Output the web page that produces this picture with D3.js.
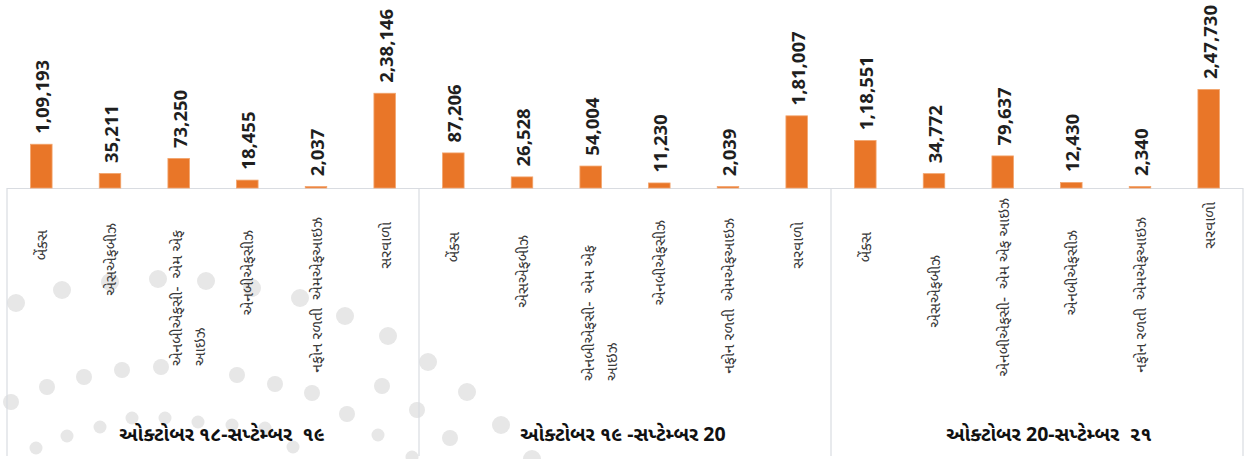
<!DOCTYPE html>
<html><head><meta charset="utf-8">
<script src="https://cdn.jsdelivr.net/npm/d3@7/dist/d3.min.js"></script>
<style>
body{margin:0;background:#fff}
svg{display:block}
text{white-space:pre}
</style>
</head><body>
<svg id="chart" width="1249" height="459"></svg>
<script>
// ---- data ----
const periods = ["ઓક્ટોબર ૧૮-સપ્ટેમ્બર  ૧૯", "ઓક્ટોબર ૧૯ -સપ્ટેમ્બર 20", "ઓક્ટોબર 20-સપ્ટેમ્બર  ૨૧"];
const categories = ["બેંક્સ", "એસએફબીઝ", "એનબીએફસી- એમ એફ આઇઝ", "એનબીએફસીઝ", "નફોન રળતી  એમએફઆઇઝ", "સરવાળો"];
const values1819 = [109193, 35211, 73250, 18455, 2037, 238146];
const values1920 = [87206, 26528, 54004, 11230, 2039, 181007];
const values2021 = [118551, 34772, 79637, 12430, 2340, 247730];
// line breaks of the category labels per period
const catLines = [
  [["બેંક્સ"], ["એસએફબીઝ"], ["એનબીએફસી-  એમ એફ", "આઇઝ"], ["એનબીએફસીઝ"], ["નફોન રળતી  એમએફઆઇઝ"], ["સરવાળો"]],
  [["બેંક્સ"], ["એસએફબીઝ"], ["એનબીએફસી-  એમ એફ", "આઇઝ"], ["એનબીએફસીઝ"], ["નફોન રળતી  એમએફઆઇઝ"], ["સરવાળો"]],
  [["બેંક્સ"], ["એસએફબીઝ"], ["એનબીએફસી-  એમ એફ આઇઝ"], ["એનબીએફસીઝ"], ["નફોન રળતી  એમએફઆઇઝ"], ["સરવાળો"]]
];
// ---- layout (not data) ----
const labelTop = [
  [230, 223, 230, 230, 217, 222],
  [232, 235, 245, 220, 218, 222],
  [232, 255, 198, 230, 217, 202]
];
const titleShift = [9, -2, 12];
const bgDots = [
  [16,303,9],[62,290,9],[110,282,9],[158,279,9],[206,281,9],[252,288,9],[300,298,9],[345,316,9],[388,336,9],
  [428,362,9],[467,392,9],[501,425,9],[532,459,9],
  [11,402,8],[47,387,8],[84,377,8],[122,370,8],[161,367,8],[237,375,8],[275,384,8],[312,393,8],[347,414,8],[382,386,8],[417,410,8],[450,438,8],
  [36,448,6.5],[67,436,6.5],[100,427,6.5],[132,418,6.5],[165,418,6.5],[198,422,6.5],[232,425,6.5],[265,428,6.5],[293,447,6.5],[378,435,6.5],[412,457,6.5]
];

const series = [values1819, values1920, values2021];
const rows = [];
series.forEach((vals, g) => vals.forEach((v, i) => rows.push({g, i, key: g + "-" + i, v})));

function indianFormat(n) {
  const s = String(n);
  if (s.length <= 3) return s;
  const last3 = s.slice(-3);
  let rest = s.slice(0, -3);
  const parts = [];
  while (rest.length > 2) { parts.unshift(rest.slice(-2)); rest = rest.slice(0, -2); }
  if (rest.length) parts.unshift(rest);
  return parts.join(",") + "," + last3;
}

const svg = d3.select("#chart");
const left = 7, right = 1243, baseY = 188;

// background decoration
svg.append("g").selectAll("circle").data(bgDots).join("circle")
  .attr("cx", d => d[0]).attr("cy", d => d[1]).attr("r", d => d[2])
  .attr("fill", "#e7e7e7");

const x = d3.scaleBand().domain(rows.map(d => d.key)).range([left, right])
  .paddingInner(0.687).paddingOuter(0.3435);
const y = d3.scaleLinear().domain([0, 300000]).range([baseY, 69.4]);

// category frame
const frame = svg.append("g").attr("stroke", "#d9dce1").attr("stroke-width", 1.2).attr("fill", "none");
frame.append("line").attr("x1", left).attr("x2", right).attr("y1", baseY + 0.5).attr("y2", baseY + 0.5);
const boundaries = [0, 1, 2, 3].map(g => g < 3 ? x(g + "-0") - (x.step() - x.bandwidth()) / 2 : right);
boundaries.forEach(bx => frame.append("line").attr("x1", bx).attr("x2", bx).attr("y1", baseY).attr("y2", 456));

// bars
svg.append("g").selectAll("rect").data(rows).join("rect")
  .attr("x", d => x(d.key)).attr("width", x.bandwidth())
  .attr("y", d => y(d.v) - 0.6).attr("height", d => y(0) - y(d.v) + 0.6)
  .attr("fill", "#e97628")
  .attr("stroke", "#f2a46c").attr("stroke-width", 0.8);

// value labels
svg.append("g").selectAll("text").data(rows).join("text")
  .attr("transform", d => `translate(${x(d.key) + x.bandwidth() / 2 + 8},${y(d.v) - 11}) rotate(-90)`)
  .attr("font-family", "'Noto Sans', 'Open Sans', sans-serif")
  .attr("font-weight", "bold").attr("font-size", 18.5).attr("fill", "#1f1f1f")
  .text(d => indianFormat(d.v));

// category labels
const catG = svg.append("g").attr("font-family", "'Noto Sans Gujarati', 'Noto Sans', sans-serif")
  .attr("font-size", 15.5).attr("fill", "#3a3a3a");
rows.forEach(d => {
  const lines = catLines[d.g][d.i];
  const cx = x(d.key) + x.bandwidth() / 2;
  const top = labelTop[d.g][d.i];
  if (lines.length === 1) {
    catG.append("text").attr("transform", `translate(${cx + 6},${top}) rotate(-90)`)
      .attr("text-anchor", "end").text(lines[0]);
  } else {
    const t1 = catG.append("text").attr("transform", `translate(${cx + 3},${top}) rotate(-90)`)
      .attr("text-anchor", "end").text(lines[0]);
    const len = t1.node().getComputedTextLength();
    catG.append("text").attr("transform", `translate(${cx + 26},${top + len}) rotate(-90)`)
      .attr("text-anchor", "start").text(lines[1]);
  }
});

// period titles
svg.append("g").selectAll("text").data(periods).join("text")
  .attr("x", (d, g) => (boundaries[g] + boundaries[g + 1]) / 2 + titleShift[g])
  .attr("y", 441)
  .attr("text-anchor", "middle")
  .attr("font-family", "'Noto Sans Gujarati', 'Noto Sans', sans-serif")
  .attr("font-weight", "bold").attr("font-size", 19.5).attr("fill", "#111")
  .text(d => d);
</script>
</body></html>
